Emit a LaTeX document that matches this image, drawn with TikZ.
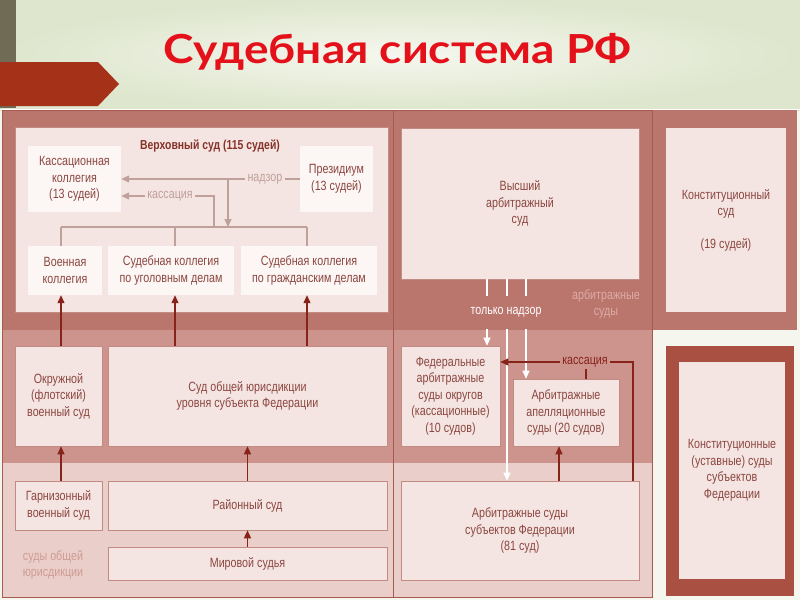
\documentclass[tikz,border=0pt]{standalone}
\usepackage{fontspec}
\setmainfont{Liberation Sans}[FakeStretch=0.8]
\newfontfamily\titlefont{Lato}
\usetikzlibrary{arrows.meta}
\definecolor{bgA}{RGB}{222,230,205}
\definecolor{bgB}{RGB}{245,247,238}
\definecolor{stripc}{RGB}{112,107,85}
\definecolor{ribbon}{RGB}{165,50,24}
\definecolor{titlered}{RGB}{228,16,26}
\definecolor{bandD}{RGB}{186,117,109}
\definecolor{bandM}{RGB}{205,148,141}
\definecolor{bandL}{RGB}{234,206,201}
\definecolor{framec}{RGB}{166,89,79}
\definecolor{boxbg}{RGB}{244,229,226}
\definecolor{nodebg}{RGB}{252,246,245}
\definecolor{txt}{RGB}{140,70,64}
\definecolor{vstxt}{RGB}{135,50,40}
\definecolor{darkarrow}{RGB}{135,35,25}
\definecolor{grayline}{RGB}{192,160,154}
\definecolor{constouter}{RGB}{169,80,66}
\definecolor{lbllight}{RGB}{221,172,165}
\definecolor{lblpink}{RGB}{208,155,148}
\newcommand\fsz{\fontsize{13.4}{16.5}\selectfont}
\tikzset{
  box/.style={draw=framec!70, line width=0.6pt, fill=boxbg, text=txt, align=center, inner sep=0pt, font=\fsz},
  wbox/.style={draw=none, fill=nodebg, text=txt, align=center, inner sep=0pt, font=\fsz},
  lbl/.style={text=grayline, font=\fsz, inner sep=2pt},
  gline/.style={draw=grayline, line width=1.2pt},
  garrow/.style={gline, -{Triangle[length=8pt,width=7pt]}},
  dline/.style={draw=darkarrow, line width=1.2pt},
  darrow/.style={dline, -{Triangle[length=8pt,width=7pt]}},
  wline/.style={draw=white, line width=1.2pt},
  warrow/.style={wline, -{Triangle[length=8pt,width=7pt]}},
}
\begin{document}
\begin{tikzpicture}[x=1pt,y=-1pt]
\useasboundingbox (0,0) rectangle (800,600);
% background
\fill[bgB] (0,0) rectangle (800,600);
\shade[inner color=bgB, outer color=bgA] (0,0) rectangle (800,110);
\fill[stripc] (0,0) rectangle (16,108);
\fill[ribbon] (0,62) -- (98,62) -- (119,84) -- (98,106) -- (0,106) -- cycle;
\node[anchor=base, text=titlered, font=\titlefont\bfseries\fontsize{40}{40}\selectfont, inner sep=0pt] (title) at (397.5,63) {\scalebox{1.15}[1]{Судебная система РФ}};

% panels
\fill[bandD] (2,110) rectangle (393,330);
\fill[bandM] (2,330) rectangle (393,463);
\fill[bandL] (2,463) rectangle (393,597);
\fill[bandD] (393,110) rectangle (652,330);
\fill[bandM] (393,330) rectangle (652,463);
\fill[bandL] (393,463) rectangle (652,597);
\fill[bandD] (652,110) rectangle (797,330);
\draw[framec, line width=0.8pt] (2,110) rectangle (393,597);
\draw[framec, line width=0.8pt] (393,110) rectangle (652,597);
\draw[white, line width=0.8pt] (0,109.5) -- (800,109.5);

% helper x coordinates
\coordinate (x61) at (61,0);
\coordinate (x175) at (175,0);
\coordinate (x307) at (307,0);
\coordinate (x214) at (214,0);
\coordinate (x228) at (228,0);
\coordinate (x247) at (247.5,0);
\coordinate (x487) at (487,0);
\coordinate (x507) at (507,0);
\coordinate (x526) at (526,0);
\coordinate (x559) at (559,0);
\coordinate (x586) at (586,0);
\coordinate (x633) at (633,0);
\coordinate (bus) at (0,227);
\coordinate (tnTop) at (0,296);
\coordinate (tnBot) at (0,329);

% Supreme court
\node[box, fill=boxbg, minimum width=373pt, minimum height=185pt] (vs) at (201.5,219.5) {};
\node[text=vstxt, font=\bfseries\fontsize{13}{15}\selectfont, inner sep=0pt] (vst) at (210,146) {Верховный суд (115 судей)};
\node[wbox, minimum width=93pt, minimum height=66pt] (kk) at (74.5,179) {Кассационная\\коллегия\\(13 судей)};
\node[wbox, minimum width=73pt, minimum height=66pt] (pr) at (336.5,179) {Президиум\\(13 судей)};
\node[wbox, minimum width=74pt, minimum height=49pt] (vk) at (65,270.5) {Военная\\коллегия};
\node[wbox, minimum width=126pt, minimum height=49pt] (ud) at (171,270.5) {Судебная коллегия\\по уголовным делам};
\node[wbox, minimum width=136pt, minimum height=49pt] (gd) at (309,270.5) {Судебная коллегия\\по гражданским делам};
\node[lbl] (nadzor) at (265,179) {надзор};
\node[lbl] (kas1) at (170,196) {кассация};

\draw[gline] (pr.west) -- (nadzor.east);
\draw[garrow] (nadzor.west) -- (kk.east |- nadzor.west);
\draw[garrow] (nadzor.west -| x228) -- (bus -| x228);
\draw[gline] (kas1.east) -| (bus -| x214);
\draw[garrow] (kas1.west) -- (kk.east |- kas1.west);
\draw[gline] (bus -| x61) -- (bus -| x307);
\draw[gline] (bus -| x61) -- (vk.north -| x61);
\draw[gline] (bus -| x175) -- (ud.north -| x175);
\draw[gline] (bus -| x307) -- (gd.north -| x307);

% general jurisdiction lower levels
\node[box, minimum width=87pt, minimum height=100pt] (ovs) at (58.5,396) {Окружной\\(флотский)\\военный суд};
\node[box, minimum width=279pt, minimum height=100pt] (soj) at (247.5,396) {Суд общей юрисдикции\\уровня субъекта Федерации};
\node[box, minimum width=87pt, minimum height=49pt] (gvs) at (58.5,505.5) {Гарнизонный\\военный суд};
\node[box, minimum width=279pt, minimum height=49pt] (rs) at (247.5,505.5) {Районный суд};
\node[box, minimum width=279pt, minimum height=33pt] (ms) at (247.5,563.5) {Мировой судья};
\node[text=lblpink, font=\fsz, align=center, inner sep=0pt] (sojl) at (53,565) {суды общей\\юрисдикции};

\draw[darrow] (ovs.north -| x61) -- (vk.south -| x61);
\draw[darrow] (soj.north -| x175) -- (ud.south -| x175);
\draw[darrow] (soj.north -| x307) -- (gd.south -| x307);
\draw[darrow] (gvs.north -| x61) -- (ovs.south -| x61);
\draw[darrow] (rs.north -| x247) -- (soj.south -| x247);
\draw[darrow] (ms.north -| x247) -- (rs.south -| x247);

% arbitration courts
\node[box, fill=boxbg, minimum width=238pt, minimum height=151pt] (vas) at (520,203.5) {Высший\\арбитражный\\суд};
\node[text=white, font=\fsz, inner sep=0pt] (tn) at (506,312) {только надзор};
\node[text=lbllight, font=\fsz, align=center, inner sep=0pt] (arbl) at (606,304) {арбитражные\\суды};
\node[box, minimum width=99pt, minimum height=100pt] (fas) at (450.5,396) {Федеральные\\арбитражные\\суды округов\\(кассационные)\\(10 судов)};
\node[box, minimum width=106pt, minimum height=67pt] (aas) at (566,412.5) {Арбитражные\\апелляционные\\суды (20 судов)};
\node[box, minimum width=238pt, minimum height=99pt] (asf) at (520,530.5) {Арбитражные суды\\субъектов Федерации\\(81 суд)};
\node[text=darkarrow, font=\fsz, inner sep=2pt] (kas2) at (585,362) {кассация};

\draw[wline] (vas.south -| x487) -- (tnTop -| x487);
\draw[wline] (vas.south -| x507) -- (tnTop -| x507);
\draw[wline] (vas.south -| x526) -- (tnTop -| x526);
\draw[warrow] (tnBot -| x487) -- (fas.north -| x487);
\draw[warrow] (tnBot -| x507) -- (asf.north -| x507);
\draw[warrow] (tnBot -| x526) -- (aas.north -| x526);

\draw[darrow] (kas2.west) -- (fas.east |- kas2.west);
\draw[dline] (kas2.east) -| (asf.north -| x633);
\draw[dline] (kas2.south -| x586) -- (aas.north -| x586);
\draw[darrow] (asf.north -| x559) -- (aas.south -| x559);

% constitutional courts
\node[box, draw=none, fill=boxbg, minimum width=120pt, minimum height=184pt] (ks) at (726,220) {Конституционный\\суд\\[16pt](19 судей)};
\fill[constouter] (666,346) rectangle (794,596);
\node[box, draw=none, fill=boxbg, minimum width=106pt, minimum height=217pt] (kus) at (732,470.5) {Конституционные\\(уставные) суды\\субъектов\\Федерации};
\end{tikzpicture}
\end{document}
